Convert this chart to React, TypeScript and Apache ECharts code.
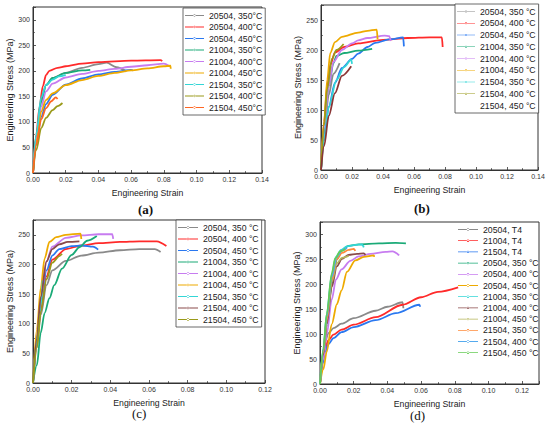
import React, { useEffect, useRef } from 'react';
import * as echarts from 'echarts';

const FONT = '"Liberation Sans", Arial, sans-serif';

// ---------- Panel (a) ----------
const labelsA = ['20504, 350°C', '20504, 400°C', '20504, 450°C', '21004, 350°C', '21004, 400°C', '21004, 450°C', '21504, 350°C', '21504, 400°C', '21504, 450°C'];
const colorsA = ['#8a8a8a', '#ff2a2a', '#2a78f0', '#1aaa77', '#c77cf0', '#eeaa00', '#33d6d6', '#9a9a1a', '#ff6622'];
const curvesA = [
  [[0, 0], [0.002, 70], [0.005, 140], [0.008, 172], [0.012, 186], [0.02, 196], [0.03, 206], [0.04, 213], [0.045, 216], [0.051, 207], [0.057, 199]],
  [[0, 0], [0.002, 75], [0.004, 130], [0.006, 170], [0.008, 192], [0.01, 200], [0.015, 206], [0.02, 209], [0.03, 214], [0.04, 217], [0.06, 220], [0.078, 221], [0.079, 219]],
  [[0, 0], [0.002, 55], [0.005, 110], [0.008, 135], [0.012, 153], [0.02, 173], [0.03, 185], [0.04, 193], [0.05, 198], [0.06, 202], [0.061, 201]],
  [[0, 0], [0.002, 70], [0.005, 140], [0.008, 172], [0.012, 186], [0.02, 196], [0.03, 201], [0.035, 202]],
  [[0, 0], [0.002, 65], [0.005, 130], [0.008, 160], [0.012, 175], [0.02, 187], [0.03, 194], [0.04, 200], [0.05, 204], [0.06, 208], [0.07, 211], [0.08, 214], [0.083, 210]],
  [[0, 0], [0.002, 60], [0.005, 120], [0.008, 143], [0.012, 156], [0.02, 172], [0.03, 182], [0.04, 190], [0.05, 196], [0.06, 201], [0.07, 205], [0.08, 209], [0.084, 210], [0.0842, 204]],
  [[0, 0], [0.002, 75], [0.005, 148], [0.008, 172], [0.012, 183], [0.016, 189], [0.02, 192]],
  [[0, 0], [0.002, 45], [0.005, 88], [0.008, 108], [0.012, 123], [0.015, 131], [0.018, 137]],
  [[0, 0], [0.002, 55], [0.005, 105], [0.008, 127], [0.011, 140], [0.014, 148], [0.015, 145]],
];

// ---------- Panel (b) ----------
const labelsB = ['20504, 350 °C', '20504, 400 °C', '20504, 450 °C', '21004, 350 °C', '21004, 400 °C', '21004, 450 °C', '21504, 350 °C', '21504, 400 °C', '21504, 450 °C'];
const colorsB = ['#8a8a8a', '#ff2a2a', '#2a78f0', '#1aaa77', '#c77cf0', '#eeaa00', '#33d6d6', '#9a9a1a', '#8a3535'];
const curvesB = [
  [[0, 0], [0.002, 60], [0.005, 125], [0.008, 160], [0.012, 178]],
  [[0, 0], [0.002, 80], [0.004, 140], [0.006, 175], [0.009, 196], [0.015, 205], [0.024, 211], [0.04, 217], [0.056, 220], [0.07, 221], [0.078, 221], [0.0785, 205]],
  [[0, 0], [0.002, 50], [0.005, 105], [0.009, 145], [0.0135, 170], [0.02, 185], [0.024, 194], [0.03, 205], [0.035, 212], [0.045, 218], [0.053, 221], [0.0535, 206]],
  [[0, 0], [0.002, 70], [0.005, 140], [0.008, 178], [0.01, 190], [0.015, 195], [0.024, 199], [0.033, 202]],
  [[0, 0], [0.002, 70], [0.005, 140], [0.008, 180], [0.0135, 200], [0.02, 211], [0.024, 216], [0.03, 220], [0.041, 224], [0.044, 223], [0.045, 215]],
  [[0, 0], [0.002, 80], [0.004, 150], [0.006, 195], [0.009, 213], [0.0135, 222], [0.024, 229], [0.03, 232], [0.036, 234], [0.0365, 218]],
  [[0, 0], [0.002, 50], [0.005, 105], [0.01, 150], [0.015, 172], [0.0195, 184], [0.02, 177]],
  [[0, 0], [0.002, 75], [0.004, 135], [0.007, 185], [0.01, 200], [0.0146, 210]],
  [[0, 0], [0.002, 40], [0.005, 90], [0.009, 128], [0.0135, 157], [0.0195, 173]],
];

// ---------- Panel (c) ----------
const labelsC = labelsB;
const colorsC = ['#8a8a8a', '#ff2a2a', '#2a78f0', '#1aaa77', '#c77cf0', '#eeaa00', '#33d6d6', '#8a4a4a', '#9a9a1a'];
const curvesC = [
  [[0, 0], [0.002, 60], [0.004, 115], [0.007, 165], [0.01, 190], [0.017, 206], [0.025, 215], [0.034, 220], [0.045, 224], [0.055, 226], [0.063, 226], [0.066, 221]],
  [[0, 0], [0.002, 65], [0.004, 125], [0.007, 180], [0.01, 208], [0.017, 226], [0.025, 232], [0.034, 236], [0.045, 238], [0.055, 239], [0.064, 239], [0.069, 231]],
  [[0, 0], [0.002, 70], [0.004, 135], [0.007, 190], [0.01, 215], [0.0136, 226], [0.02, 231], [0.0255, 232], [0.031, 230], [0.0337, 225]],
  [[0, 0], [0.002, 30], [0.004, 85], [0.006, 118], [0.0085, 143], [0.011, 165], [0.015, 193], [0.02, 216], [0.024, 229], [0.028, 240], [0.033, 248]],
  [[0, 0], [0.002, 70], [0.004, 140], [0.007, 205], [0.01, 230], [0.017, 245], [0.025, 249], [0.034, 251], [0.041, 251], [0.0415, 243]],
  [[0, 0], [0.002, 90], [0.004, 160], [0.006, 210], [0.0085, 238], [0.012, 246], [0.017, 250], [0.0246, 252], [0.025, 243]],
  [[0, 0], [0.002, 70], [0.004, 130], [0.005, 173]],
  [[0, 0], [0.002, 75], [0.004, 145], [0.007, 205], [0.01, 226], [0.0136, 234], [0.018, 238], [0.024, 239]],
  [[0, 0], [0.002, 60], [0.004, 120], [0.007, 175], [0.01, 203], [0.0136, 214], [0.015, 218]],
];

// ---------- Panel (d) ----------
const labelsD = ['20504, T4', '21004, T4', '21504, T4', '20504, 350 °C', '20504, 400 °C', '20504, 450 °C', '21004, 350 °C', '21004, 400 °C', '21004, 450 °C', '21504, 350 °C', '21504, 400 °C', '21504, 450 °C'];
const colorsD = ['#8a8a8a', '#ff2a2a', '#2a78f0', '#1aaa77', '#c77cf0', '#eeaa00', '#33d6d6', '#8a4a4a', '#b5b55a', '#ff8a3a', '#55aaee', '#66cc55'];
const curvesD = [
  [[0, 0], [0.0015, 55], [0.003, 85], [0.005, 102], [0.008, 112], [0.0128, 121], [0.02, 132], [0.033, 147], [0.04, 155], [0.049, 164], [0.0495, 152]],
  [[0, 0], [0.0015, 45], [0.003, 72], [0.005, 88], [0.008, 99], [0.0128, 109], [0.02, 119], [0.033, 134], [0.049, 159], [0.06, 174], [0.07, 185], [0.082, 194]],
  [[0, 0], [0.0015, 40], [0.003, 64], [0.005, 80], [0.008, 92], [0.0128, 104], [0.02, 114], [0.033, 128], [0.045, 142], [0.059, 159], [0.0595, 155]],
  [[0, 0], [0.002, 60], [0.004, 120], [0.007, 200], [0.01, 250], [0.0128, 268], [0.017, 277], [0.023, 280], [0.035, 282], [0.045, 283], [0.051, 282]],
  [[0, 0], [0.002, 50], [0.004, 100], [0.007, 170], [0.0095, 210], [0.0128, 230], [0.018, 247], [0.023, 256], [0.03, 261], [0.039, 265], [0.043, 266], [0.047, 258]],
  [[0, 0], [0.002, 30], [0.004, 65], [0.007, 120], [0.01, 160], [0.0128, 188], [0.016, 225], [0.021, 248], [0.026, 255], [0.032, 258], [0.0322, 255]],
  [[0, 0], [0.002, 70], [0.004, 140], [0.007, 220], [0.0095, 255], [0.0125, 269], [0.016, 276], [0.021, 279], [0.025, 280], [0.026, 274]],
  [[0, 0], [0.002, 60], [0.004, 120], [0.007, 195], [0.01, 236], [0.013, 251], [0.017, 259], [0.022, 261], [0.026, 262], [0.027, 259]],
  [[0, 0], [0.002, 65], [0.004, 130], [0.007, 205], [0.01, 242], [0.013, 253], [0.017, 257]],
  [[0, 0], [0.002, 65], [0.004, 128], [0.007, 210], [0.01, 250], [0.013, 263], [0.017, 269], [0.02, 271], [0.021, 267]],
  [[0, 0], [0.002, 68], [0.004, 135], [0.007, 215], [0.01, 255], [0.013, 268], [0.016, 273]],
  [[0, 0], [0.002, 70], [0.004, 140], [0.007, 222], [0.009, 252], [0.012, 266], [0.015, 271]],
];

// ---------- Layout ----------
const panels = [
  { key: 'a', labels: labelsA, colors: colorsA, curves: curvesA, grid: { left: 33, top: 7, width: 229, height: 166 }, xMax: 0.14, yMax: 325, yGap: 18, legend: { left: 183, top: 8, border: true, itemWidth: 19, gap: 2.5 }, caption: { x: 146, y: 211, text: '(a)', bold: true }, hidden: [] as number[] },
  { key: 'b', labels: labelsB, colors: colorsB, curves: curvesB, grid: { left: 321, top: 5, width: 217, height: 165 }, xMax: 0.14, yMax: 275, yGap: 18, legend: { left: 455, top: 4, border: true, itemWidth: 18, gap: 2.75 }, caption: { x: 422, y: 210, text: '(b)', bold: true }, hidden: [8] },
  { key: 'c', labels: labelsC, colors: colorsC, curves: curvesC, grid: { left: 33, top: 220, width: 232, height: 163 }, xMax: 0.12, yMax: 275, yGap: 19, legend: { left: 176, top: 220, border: true, itemWidth: 20, gap: 2.5 }, caption: { x: 140, y: 415, text: '(c)', bold: false }, hidden: [] as number[] },
  { key: 'd', labels: labelsD, colors: colorsD, curves: curvesD, grid: { left: 320, top: 222, width: 219, height: 162 }, xMax: 0.13, yMax: 325, yGap: 18, legend: { left: 456, top: 222, border: false, itemWidth: 20, gap: 2.2 }, caption: { x: 418, y: 417, text: '(d)', bold: false }, hidden: [] as number[] },
];

// thin line with a small dot in the middle (Origin-style legend key)
const LEGEND_ICON = 'path://M0,1.1L20,1.1L20,1.9L0,1.9Z M8.8,1.5a1.2,1.2 0 1,0 2.4,0a1.2,1.2 0 1,0 -2.4,0Z M0,0L0.01,0L0.01,3L0,3Z';

function buildOption() {
  const grid: any[] = [];
  const xAxis: any[] = [];
  const yAxis: any[] = [];
  const legend: any[] = [];
  const series: any[] = [];
  const graphic: any[] = [];

  panels.forEach((p, i) => {
    grid.push({ ...p.grid, show: true, borderColor: '#333', borderWidth: 1, backgroundColor: 'transparent' });
    const tick = { show: true, inside: true, length: 3, lineStyle: { color: '#333', width: 0.8 } };
    const minor = { show: true, splitNumber: 2, length: 1.8, lineStyle: { color: '#333', width: 0.8 } };
    xAxis.push({
      type: 'value', gridIndex: i, min: 0, max: p.xMax, interval: 0.02,
      name: 'Engineering Strain', nameLocation: 'middle', nameGap: 15,
      nameTextStyle: { fontFamily: FONT, fontSize: 8.7, color: '#222' },
      axisLine: { show: true, lineStyle: { color: '#333', width: 1 } },
      axisTick: tick, minorTick: minor, splitLine: { show: false },
      axisLabel: { fontFamily: FONT, fontSize: 7, color: '#333', margin: 3, formatter: (v: number) => v.toFixed(2), showMaxLabel: p.xMax === 0.13 ? false : true },
    });
    yAxis.push({
      type: 'value', gridIndex: i, min: 0, max: p.yMax, interval: 50,
      name: 'Engineering Stress (MPa)', nameLocation: 'middle', nameGap: p.yGap,
      nameTextStyle: { fontFamily: FONT, fontSize: 9, color: '#222' },
      axisLine: { show: true, lineStyle: { color: '#333', width: 1 } },
      axisTick: tick, minorTick: minor, splitLine: { show: false },
      axisLabel: { fontFamily: FONT, fontSize: 7, color: '#333', margin: 3, showMaxLabel: false },
    });
    const names: any[] = [];
    p.labels.forEach((lab, j) => {
      const name = p.key + '|' + lab;
      series.push({
        type: 'line', name, xAxisIndex: i, yAxisIndex: i,
        data: p.curves[j], smooth: 0.3, smoothMonotone: 'x',
        symbol: 'circle', symbolSize: 2, showSymbol: false,
        lineStyle: { color: p.colors[j], width: 1.8 }, itemStyle: { color: p.colors[j] },
        z: 2,
      });
      if (p.hidden.includes(j)) {
        names.push({ name, icon: LEGEND_ICON, itemStyle: { opacity: 0 } });
      } else {
        names.push({ name, icon: LEGEND_ICON });
      }
    });
    legend.push({
      data: names, orient: 'vertical', left: p.legend.left, top: p.legend.top,
      icon: LEGEND_ICON,
      itemWidth: p.legend.itemWidth, itemHeight: 3, itemGap: p.legend.gap,
      padding: [3, 3, 3, 2],
      backgroundColor: p.legend.border ? '#fff' : 'transparent',
      borderColor: p.legend.border ? '#444' : 'transparent', borderWidth: p.legend.border ? 0.8 : 0,
      textStyle: { fontFamily: FONT, fontSize: 8.7, color: '#222', lineHeight: 9 },
      formatter: (n: string) => n.split('|')[1],
      selectedMode: false, z: 4,
    });
    graphic.push({
      type: 'text', left: p.caption.x - 8, top: p.caption.y - 8,
      style: { text: p.caption.text, font: `${p.caption.bold ? 'bold ' : ''}13px "Liberation Serif", "Times New Roman", serif`, fill: '#111' },
    });
  });

  return { animation: false, backgroundColor: '#fff', grid, xAxis, yAxis, legend, series, graphic };
}

export default function App() {
  const ref = useRef<HTMLDivElement>(null);
  useEffect(() => {
    if (!ref.current) return;
    const chart = echarts.init(ref.current, undefined, { renderer: 'svg' });
    chart.setOption(buildOption());
    return () => chart.dispose();
  }, []);
  return <div ref={ref} style={{ position: 'absolute', left: 0, top: 0, width: 550, height: 430 }} />;
}
